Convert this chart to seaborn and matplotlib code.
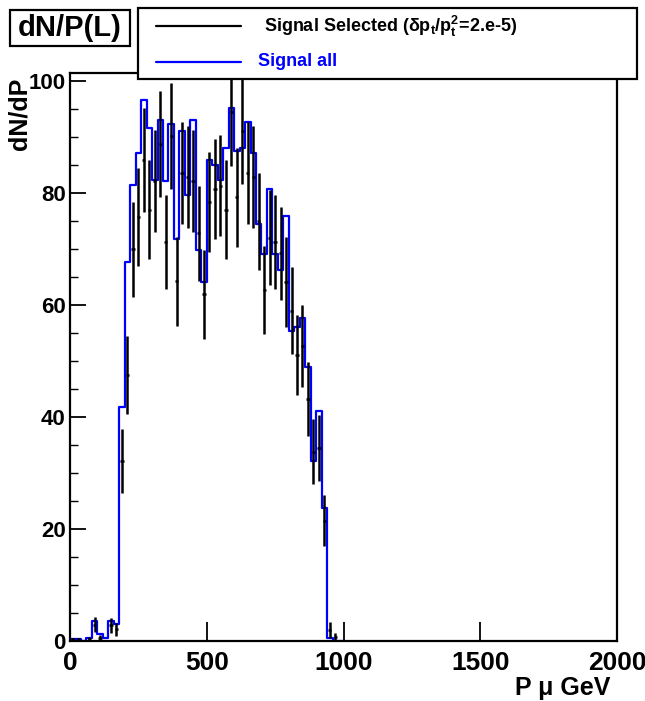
import numpy as np
import pandas as pd
import matplotlib
matplotlib.use("Agg")
import matplotlib.pyplot as plt
import seaborn as sns
from matplotlib.patches import Rectangle
from matplotlib.lines import Line2D

# ---------------- data ----------------
bin_width = 20
bin_range = (0, 1000)
signal_all = [0.3, 0.3, 0.0, 0.5, 3.5, 1.2, 0.5, 3.5, 3.0,
              41.7, 67.7, 81.4, 87.2, 96.6, 91.5, 82.3, 93.0, 82.2, 92.3,
              71.7, 91.0, 79.7, 93.0, 69.8, 64.1, 85.9, 85.0, 82.3, 88.0,
              95.2, 87.5, 88.0, 92.6, 87.2, 74.5, 69.1, 80.7, 69.0, 66.3,
              75.8, 55.3, 56.0, 57.6, 49.0, 32.2, 41.0, 23.7, 0.5, 0.0, 0.0]
signal_sel = [0.3, 0.3, 0.0, 0.3, 2.9, 0.5, 0.0, 2.8, 2.1,
              32.2, 47.5, 69.9, 75.7, 85.8, 77.0, 82.2, 88.7, 71.3, 90.2,
              64.2, 83.6, 82.8, 82.2, 72.8, 61.9, 78.4, 80.7, 81.3, 77.0,
              94.5, 79.2, 91.0, 83.5, 82.8, 74.9, 62.7, 72.0, 71.3, 69.2,
              64.1, 59.0, 51.1, 52.6, 43.2, 33.8, 34.4, 21.5, 2.0, 0.7, 0.0]
signal_sel_err = [0.3, 0.3, 0.0, 0.4, 1.3, 0.6, 0.0, 1.3, 1.2,
                  5.7, 6.9, 8.4, 8.7, 9.3, 8.8, 9.1, 9.4, 8.4, 9.5,
                  8.0, 9.1, 9.1, 9.1, 8.5, 7.9, 8.9, 9.0, 9.0, 8.8,
                  9.7, 8.9, 9.5, 9.1, 9.1, 8.7, 7.9, 8.5, 8.4, 8.3,
                  8.0, 7.7, 7.1, 7.3, 6.6, 5.8, 5.9, 4.6, 1.4, 0.8, 0.0]
x_ticks = [0, 500, 1000, 1500, 2000]
y_ticks = [0, 20, 40, 60, 80, 100]
legend_labels = [r"Signal Selected ($\delta$p$_{t}$/p$_{t}^{2}$=2.e-5)", "Signal all"]
title_text = "dN/P(L)"
x_label = "P \u03bc GeV"
y_label = "dN/dP"

bin_edges = np.arange(bin_range[0], bin_range[1] + 1, bin_width)
centers = (bin_edges[:-1] + bin_edges[1:]) / 2
df = pd.DataFrame({"p": centers, "all": signal_all, "sel": signal_sel, "err": signal_sel_err})

# ---------------- style ----------------
sns.set_style("ticks")
FAM = ['Liberation Sans Narrow', 'Liberation Sans', 'DejaVu Sans']
plt.rcParams['font.family'] = FAM
plt.rcParams['font.weight'] = 'bold'
plt.rcParams['text.color'] = 'black'
plt.rcParams['xtick.color'] = 'black'
plt.rcParams['ytick.color'] = 'black'
plt.rcParams['xtick.labelcolor'] = 'black'
plt.rcParams['ytick.labelcolor'] = 'black'
plt.rcParams['mathtext.fontset'] = 'custom'
plt.rcParams['mathtext.rm'] = 'Liberation Sans:bold'
plt.rcParams['mathtext.it'] = 'Liberation Sans:bold'
plt.rcParams['mathtext.bf'] = 'Liberation Sans:bold'

W, H = 645, 701
fig = plt.figure(figsize=(W / 100, H / 100), dpi=100)
fig.patch.set_facecolor("white")

def fx(px):
    return px / W

def fy(py):
    return 1 - py / H

ax = fig.add_axes([fx(70), fy(641), fx(617) - fx(70), fy(73) - fy(641)])
ax.set_facecolor("white")

sns.histplot(data=df, x="p", weights="all", binwidth=bin_width, binrange=bin_range,
             element="step", fill=False, color="#0000ff", linewidth=1.6, ax=ax)

nz = df[df["sel"] > 0]
ax.errorbar(nz["p"], nz["sel"], yerr=nz["err"], xerr=6, fmt="none",
            ecolor="black", elinewidth=1.8, capsize=0)

ax.set_xlim(0, 2000)
ax.set_ylim(0, 101.4)
ax.set_xticks(x_ticks)
ax.set_yticks(y_ticks)
ax.set_yticks(np.arange(0, 101, 5), minor=True)
ax.set_xlabel("")
ax.set_ylabel("")
for s in ax.spines.values():
    s.set_linewidth(1.6)
    s.set_color("black")
    s.set_visible(True)
ax.tick_params(axis="x", direction="in", length=14, width=1.3, labelsize=19, pad=7,
               colors="black")
ax.tick_params(axis="y", which="major", direction="in", length=11.5, width=1.3,
               labelsize=16, pad=3, colors="black")
ax.tick_params(axis="y", which="minor", direction="in", length=6, width=1.0, colors="black")
for lab in ax.get_xticklabels() + ax.get_yticklabels():
    lab.set_fontweight("bold")
    lab.set_color("black")

# axis titles
fig.text(fx(610), fy(688), x_label, ha="right", va="center", fontsize=18,
         fontweight="bold", color="black")
fig.text(fx(20), fy(78), y_label, ha="center", va="top", rotation=90, fontsize=18,
         fontweight="bold", color="black")

# title box
fig.patches.append(Rectangle((fx(10), fy(46)), fx(130) - fx(10), fy(10) - fy(46),
                             transform=fig.transFigure, facecolor="white",
                             edgecolor="black", linewidth=1.6, zorder=5))
fig.text(fx(70), fy(28), title_text, ha="center", va="center", fontsize=21,
         fontweight="bold", color="black", zorder=6)

# legend box
fig.patches.append(Rectangle((fx(138), fy(79)), fx(637) - fx(138), fy(8) - fy(79),
                             transform=fig.transFigure, facecolor="white",
                             edgecolor="black", linewidth=1.6, zorder=5))
fig.lines.append(Line2D([fx(156), fx(241)], [fy(26), fy(26)], transform=fig.transFigure,
                        color="black", linewidth=1.6, zorder=6))
fig.lines.append(Line2D([fx(156), fx(241)], [fy(62), fy(62)], transform=fig.transFigure,
                        color="#0000ff", linewidth=1.6, zorder=6))
fig.text(fx(264), fy(26), legend_labels[0], ha="left", va="center", fontsize=13,
         fontweight="bold", color="black", zorder=6)
fig.text(fx(258), fy(62), legend_labels[1], ha="left", va="center", fontsize=13,
         fontweight="bold", color="#0000ff", zorder=6)

fig.savefig("out.png", dpi=100, facecolor="white")
